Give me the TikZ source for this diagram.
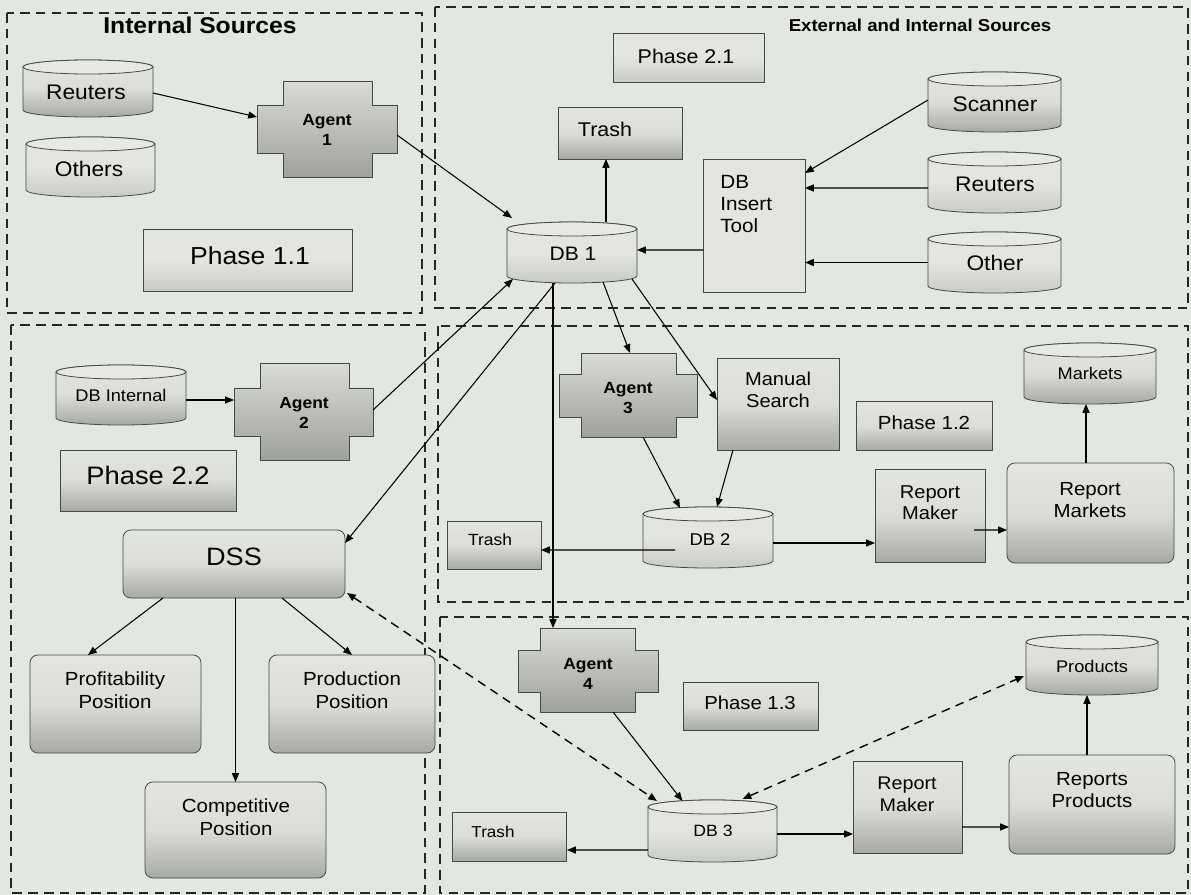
\documentclass[tikz,border=0pt]{standalone}
\usepackage{fontspec}
\setmainfont{Liberation Sans}[FakeStretch=1.08]
\usetikzlibrary{arrows.meta,calc}
\definecolor{bg}{RGB}{226,231,223}
\definecolor{boxtop}{RGB}{226,230,222}
\definecolor{boxmid}{RGB}{218,222,214}
\definecolor{boxbot}{RGB}{166,170,163}
\definecolor{boxbotl}{RGB}{200,204,197}
\definecolor{cylend}{RGB}{230,234,226}
\definecolor{agtop}{RGB}{216,220,212}
\definecolor{agbot}{RGB}{158,162,155}
\definecolor{edge}{RGB}{70,72,70}
\newcommand\fsz[2]{\fontsize{#1}{#2}\selectfont}
\tikzset{
  frame/.style={draw=black!85, line width=0.8pt, dash pattern=on 5.5pt off 3.5pt},
  sbox/.style={draw=edge, line width=0.45pt, top color=boxtop, bottom color=boxbot, middle color=boxmid, inner sep=0pt, outer sep=0pt},
  phbox/.style={draw=edge, line width=0.45pt, top color=boxtop, bottom color=boxbotl, middle color=boxtop, inner sep=0pt, outer sep=0pt},
  plainbox/.style={draw=edge, line width=0.45pt, fill=boxtop, inner sep=0pt, outer sep=0pt},
  rbox/.style={sbox, rounded corners=4.5pt},
  holder/.style={inner sep=0pt, outer sep=0pt},
  cyldark/.style={draw=edge, line width=0.45pt, top color=boxtop, bottom color=boxbot, middle color=boxmid},
  cyllight/.style={draw=edge, line width=0.45pt, top color=boxtop, bottom color=boxbotl, middle color=boxtop},
  cylendst/.style={draw=edge, line width=0.45pt, fill=cylend},
  agst/.style={draw=edge, line width=0.45pt, top color=agtop, bottom color=agbot},
  lbl/.style={inner sep=0pt, align=center},
  conn/.style={draw, line width=0.6pt, -{Triangle[length=5pt,width=4pt]}},
  dconn/.style={draw, line width=0.8pt, dash pattern=on 5pt off 3.5pt, {Triangle[length=5pt,width=4pt]}-{Triangle[length=5pt,width=4pt]}},
}
\newcommand\mkbox[6]{\node[#6, minimum width={(#4-#2)*0.02cm}, minimum height={(#5-#3)*0.02cm}] (#1) at ({(#2+#4)/2},{(#3+#5)/2}) {};}
\newcommand\mkcyl[6]{%
  \path[#6] (#2,#3+7) -- (#2,#5-7) arc[start angle=180,end angle=360,x radius={(#4-#2)*0.01cm},y radius=0.14cm] -- (#4,#3+7) arc[start angle=0,end angle=180,x radius={(#4-#2)*0.01cm},y radius=0.14cm] -- cycle;
  \draw[cylendst] ({(#2+#4)/2},#3+7) ellipse[x radius={(#4-#2)*0.01cm},y radius=0.14cm];
  \node[holder, minimum width={(#4-#2)*0.02cm}, minimum height={(#5-#3)*0.02cm}] (#1) at ({(#2+#4)/2},{(#3+#5)/2}) {};}
\newcommand\mkagent[9]{%
  \path[agst] (#6,#3) -- (#7,#3) -- (#7,#8) -- (#4,#8) -- (#4,#9) -- (#7,#9) -- (#7,#5) -- (#6,#5) -- (#6,#9) -- (#2,#9) -- (#2,#8) -- (#6,#8) -- cycle;
  \node[holder, minimum width={(#4-#2)*0.02cm}, minimum height={(#5-#3)*0.02cm}] (#1) at ({(#2+#4)/2},{(#3+#5)/2}) {};}
\begin{document}
\begin{tikzpicture}[x=0.02cm,y=-0.02cm]
\useasboundingbox (0,0) rectangle (1191,895);
\fill[bg] (0,0) rectangle (1191,895);
% frames
\draw[frame] (7,13) rectangle (422,313);
\draw[frame] (435,7) rectangle (1188,308);
\draw[frame] (11,325) rectangle (425,893);
\draw[frame] (438,326) rectangle (1188,602);
\draw[frame] (440,617) rectangle (1188,893);
% Phase 1.1 area
\mkcyl{reutL}{23}{60}{153}{117}{cyldark}
\mkcyl{others}{26}{137}{155}{197}{cyllight}
\mkagent{ag1}{257}{81}{397}{177}{283}{372}{105}{153}
\mkbox{ph11}{143}{229}{352}{291}{phbox}
% Phase 2.1 area
\mkbox{ph21}{613}{33}{764}{82}{phbox}
\mkbox{trash1}{558}{107}{682}{159}{sbox}
\mkbox{ins}{703}{159}{805}{292}{plainbox}
\mkcyl{db1}{507}{222}{637}{283}{cyllight}
\mkcyl{scan}{928}{72}{1061}{132}{cyldark}
\mkcyl{reutR}{928}{152}{1061}{213}{cyllight}
\mkcyl{other}{928}{232}{1061}{293}{cyllight}
% Phase 2.2 area
\mkcyl{dbint}{56}{365}{186}{425}{cyldark}
\mkagent{ag2}{234}{363}{373}{460}{260}{349}{388}{436}
\mkbox{ph22}{60}{450}{236}{511}{sbox}
\mkbox{dss}{123}{530}{345}{598}{rbox}
\mkbox{prof}{30}{655}{201}{753}{rbox}
\mkbox{prodp}{269}{655}{435}{753}{rbox}
\mkbox{comp}{145}{782}{326}{878}{rbox}
% Phase 1.2 area
\mkagent{ag3}{559}{353}{697}{437}{581}{676}{374}{417}
\mkbox{ms}{717}{358}{839}{450}{sbox}
\mkcyl{db2}{643}{507}{773}{568}{cyllight}
\mkbox{trash2}{447}{521}{541}{569}{sbox}
\mkbox{ph12}{856}{401}{992}{450}{sbox}
\mkcyl{markets}{1024}{343}{1156}{404}{cyldark}
\mkbox{rm1}{875}{469}{985}{562}{sbox}
\mkbox{rmk}{1007}{463}{1174}{563}{rbox}
% Phase 1.3 area
\mkagent{ag4}{518}{628}{658}{712}{540}{635}{650}{692}
\mkcyl{db3}{648}{800}{777}{862}{cyllight}
\mkbox{trash3}{452}{812}{566}{861}{sbox}
\mkbox{ph13}{683}{682}{818}{730}{sbox}
\mkcyl{prod}{1026}{635}{1158}{695}{cyldark}
\mkbox{rm2}{853}{761}{962}{853}{sbox}
\mkbox{rp}{1009}{755}{1175}{854}{rbox}
% connectors
\draw[conn] ($(reutL.east)+(0,4.5)$) -- ($(ag1.west)+(0,-12)$);
\draw[conn] ($(ag1.east)+(0,6)$) -- ($(db1.north west)+(5,-4)$);
\draw[conn] ($(db1.north)+(34,0)$) -- ($(trash1.south)+(-14,0)$);
\draw[conn] ($(ins.west)+(0,24.5)$) -- ($(db1.east)+(0,-2.5)$);
\draw[conn] ($(scan.west)+(0,-2)$) -- ($(ins.north east)+(0,14)$);
\draw[conn] ($(reutR.west)+(0,5.5)$) -- ($(ins.east)+(0,-37.5)$);
\draw[conn] (other.west) -- ($(ins.east)+(0,37)$);
\draw[conn] ($(dbint.east)+(0,5)$) -- ($(ag2.west)+(0,-11.5)$);
\draw[conn] ($(ag2.east)+(0,-1.5)$) -- ($(db1.south west)+(6,-4)$);
\draw[conn] ($(db1.south)+(-17,0)$) -- ($(dss.east)+(0,-21)$);
\draw[conn] ($(db1.south)+(-19,0)$) -- ($(ag4.north)+(-35,0)$);
\draw[conn] ($(db1.south)+(31,-1)$) -- ($(ag3.north)+(2,0)$);
\draw[conn] ($(db1.south)+(60,-4)$) -- ($(ms.west)+(0,-4)$);
\draw[conn] ($(ag3.south)+(15,0)$) -- ($(db2.north)+(-28,1)$);
\draw[conn] ($(ms.south)+(-45,0)$) -- ($(db2.north)+(9,0)$);
\draw[conn] ($(db2.center)+(-33,12.5)$) -- ($(trash2.east)+(0,5)$);
\draw[conn] ($(db2.east)+(0,5.5)$) -- ($(rm1.west)+(0,27.5)$);
\draw[conn] ($(rm1.east)+(-11,14.5)$) -- ($(rmk.west)+(0,17)$);
\draw[conn] ($(rmk.north)+(-4.5,0)$) -- ($(markets.south)+(-4,0)$);
\draw[dconn] ($(dss.south east)+(2,-5)$) -- ($(db3.north west)+(9,1)$);
\draw[conn] ($(ag4.south)+(25,0)$) -- ($(db3.north)+(-30,1)$);
\draw[dconn] ($(db3.north)+(30,-1)$) -- ($(prod.west)+(-2,11)$);
\draw[conn] ($(db3.west)+(0,19)$) -- ($(trash3.east)+(1,13.5)$);
\draw[conn] ($(db3.east)+(0,3)$) -- ($(rm2.west)+(0,27)$);
\draw[conn] ($(rm2.east)+(0,20)$) -- ($(rp.west)+(0,22.5)$);
\draw[conn] ($(rp.north)+(-5,0)$) -- ($(prod.south)+(-5,0)$);
\draw[conn] ($(dss.south)+(-71,0)$) -- ($(prof.north)+(-27.5,0)$);
\draw[conn] ($(dss.south)+(1.5,0)$) -- (comp.north);
\draw[conn] ($(dss.south)+(48,0)$) -- (prodp.north);
% texts
\node[lbl,font=\bfseries\fsz{13}{15}] (tIS) at (200,25) {Internal Sources};
\node[lbl,font=\bfseries\fsz{9.8}{11}] (tEIS) at (920,25) {External and Internal Sources};
\node[lbl,font=\fsz{12}{14}] (treutL) at (86,92) {Reuters};
\node[lbl,font=\fsz{12}{14}] (tothers) at (89,169) {Others};
\node[lbl,font=\bfseries\fsz{9.2}{11.3}] (tag1) at (327,130) {Agent\\1};
\node[lbl,font=\fsz{14}{16}] (tph11) at (250,256) {Phase 1.1};
\node[lbl,font=\fsz{11.3}{13}] (tph21) at (686,56) {Phase 2.1};
\node[lbl,font=\fsz{11.3}{13}] (ttrash1) at (605,129) {Trash};
\node[lbl,align=left,anchor=west,font=\fsz{10.9}{12.8}] (tins) at (720,204) {DB\\Insert\\Tool};
\node[lbl,font=\fsz{11.1}{13}] (tdb1) at (573,254) {DB 1};
\node[lbl,font=\fsz{12}{14}] (tscan) at (995,104) {Scanner};
\node[lbl,font=\fsz{12}{14}] (treutR) at (995,184) {Reuters};
\node[lbl,font=\fsz{12}{14}] (tother) at (995,263) {Other};
\node[lbl,font=\fsz{9.6}{11}] (tdbint) at (121,395) {DB Internal};
\node[lbl,font=\bfseries\fsz{9.2}{11.3}] (tag2) at (304,413) {Agent\\2};
\node[lbl,font=\fsz{14.4}{16}] (tph22) at (148,475) {Phase 2.2};
\node[lbl,font=\fsz{14.3}{16}] (tdss) at (234,557) {DSS};
\node[lbl,font=\fsz{10.8}{13}] (tprof) at (115,690) {Profitability\\Position};
\node[lbl,font=\fsz{10.8}{13}] (tprodp) at (352,690) {Production\\Position};
\node[lbl,font=\fsz{10.8}{13}] (tcomp) at (236,817) {Competitive\\Position};
\node[lbl,font=\bfseries\fsz{9.2}{11.3}] (tag3) at (628,398) {Agent\\3};
\node[lbl,font=\fsz{10.6}{12.5}] (tms) at (778,390) {Manual\\Search};
\node[lbl,font=\fsz{9.7}{11}] (tdb2) at (710,540) {DB 2};
\node[lbl,font=\fsz{9.2}{11}] (ttrash2) at (490,540) {Trash};
\node[lbl,font=\fsz{10.8}{12}] (tph12) at (924,423) {Phase 1.2};
\node[lbl,font=\fsz{9.6}{11}] (tmk) at (1090,373) {Markets};
\node[lbl,font=\fsz{10.6}{12}] (trm1) at (930,503) {Report\\Maker};
\node[lbl,font=\fsz{10.8}{12.5}] (trmk) at (1090,500) {Report\\Markets};
\node[lbl,font=\bfseries\fsz{9.2}{11.3}] (tag4) at (588,674) {Agent\\4};
\node[lbl,font=\fsz{9.3}{11}] (tdb3) at (713,831) {DB 3};
\node[lbl,font=\fsz{9}{11}] (ttrash3) at (493,832) {Trash};
\node[lbl,font=\fsz{10.7}{12}] (tph13) at (750,703) {Phase 1.3};
\node[lbl,font=\fsz{9.6}{11}] (tprod) at (1092,666) {Products};
\node[lbl,font=\fsz{10.4}{12.5}] (trm2) at (907,794) {Report\\Maker};
\node[lbl,font=\fsz{10.8}{13}] (trp) at (1092,790) {Reports\\Products};
\end{tikzpicture}
\end{document}
